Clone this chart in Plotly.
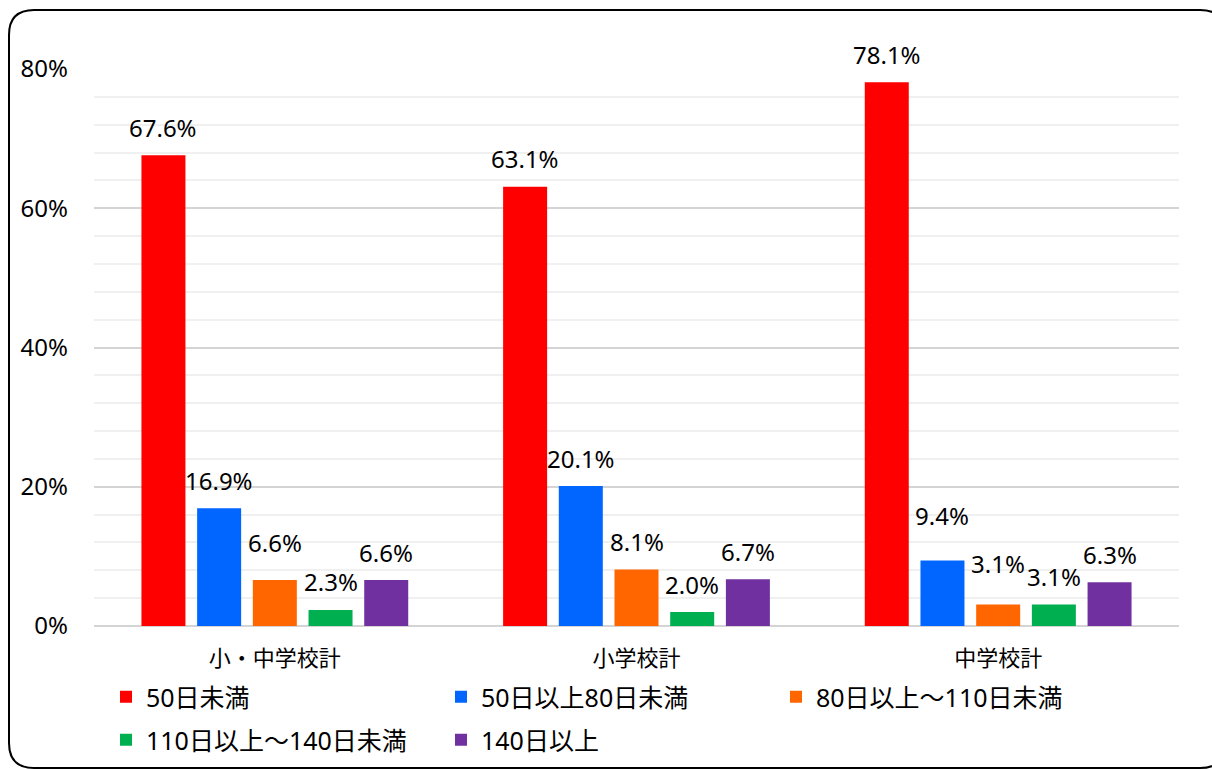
import plotly.graph_objects as go

categories = ["小・中学校計", "小学校計", "中学校計"]
series_names = ["50日未満", "50日以上80日未満", "80日以上～110日未満", "110日以上～140日未満", "140日以上"]
values_lt50 = [67.6, 63.1, 78.1]
values_50_80 = [16.9, 20.1, 9.4]
values_80_110 = [6.6, 8.1, 3.1]
values_110_140 = [2.3, 2.0, 3.1]
values_ge140 = [6.6, 6.7, 6.3]
series_values = [values_lt50, values_50_80, values_80_110, values_110_140, values_ge140]
colors = ["#FF0000", "#0066FF", "#FF6600", "#00B050", "#7030A0"]
# extra lift (px) for a few labels that sit higher in the original
extra_lift = {(2, 0): 10, (1, 2): 17, (2, 2): 13}

W, H = 1212, 769
ML, MR, MT, MB = 94, 33, 69, 143
BARGAP = 0.23
GROUPGAP = 0.21
FONT = "Noto Sans, Noto Sans CJK JP, sans-serif"

fig = go.Figure()
for j, (name, vals) in enumerate(zip(series_names, series_values)):
    fig.add_trace(go.Bar(
        x=list(range(len(categories))), y=vals, name=name,
        marker=dict(color=colors[j], line=dict(width=0)),
        legend="legend" if j < 3 else "legend2",
    ))

n = len(series_names)
slot = (1 - BARGAP) / n
annotations = []
for j, vals in enumerate(series_values):
    for i, v in enumerate(vals):
        annotations.append(dict(
            x=i + (j - (n - 1) / 2) * slot, y=v, xref="x", yref="y",
            text=f"{v:.1f}%", showarrow=False,
            yshift=28 + extra_lift.get((j, i), 0),
            font=dict(family=FONT, size=24, color="#000000"),
        ))

# rounded frame around the chart (pixel coords -> paper coords)
pw, ph = W - ML - MR, H - MT - MB
def px(x):
    return (x - ML) / pw
def py(y):
    return (H - MB - y) / ph
x0, y0, x1, y1, r = 9, 10, 1225, 768, 25
path = (f"M {px(x0 + r)},{py(y0)} L {px(x1 - r)},{py(y0)} "
        f"Q {px(x1)},{py(y0)} {px(x1)},{py(y0 + r)} L {px(x1)},{py(y1 - r)} "
        f"Q {px(x1)},{py(y1)} {px(x1 - r)},{py(y1)} L {px(x0 + r)},{py(y1)} "
        f"Q {px(x0)},{py(y1)} {px(x0)},{py(y1 - r)} L {px(x0)},{py(y0 + r)} "
        f"Q {px(x0)},{py(y0)} {px(x0 + r)},{py(y0)} Z")

legend_common = dict(orientation="h", xref="container", yref="container",
                     xanchor="left", yanchor="middle",
                     entrywidth=290, entrywidthmode="pixels",
                     font=dict(family=FONT, size=25), bgcolor="rgba(0,0,0,0)")

fig.update_layout(
    width=W, height=H,
    margin=dict(l=ML, r=MR, t=MT, b=MB, autoexpand=False),
    paper_bgcolor="white", plot_bgcolor="white",
    barmode="group", bargap=BARGAP, bargroupgap=GROUPGAP,
    font=dict(family=FONT, size=24, color="#000000"),
    annotations=annotations,
    shapes=[dict(type="path", path=path, xref="paper", yref="paper",
                 line=dict(color="#000000", width=2), layer="above")],
    xaxis=dict(
        tickmode="array", tickvals=list(range(len(categories))), ticktext=categories,
        range=[-0.5, len(categories) - 0.5],
        showgrid=False, zeroline=False, showline=False, ticks="",
        tickfont=dict(family=FONT, size=22), ticklabelstandoff=17,
    ),
    yaxis=dict(
        range=[0, 80], dtick=20, ticksuffix="%", tickfont=dict(family=FONT, size=24),
        showgrid=True, gridcolor="#D4D4D4", gridwidth=1.5,
        zeroline=True, zerolinecolor="#D4D4D4", zerolinewidth=1.5,
        showline=False, ticks="", ticklabelstandoff=25,
        minor=dict(dtick=4, showgrid=True, gridcolor="#F0F0F0", gridwidth=1.5),
    ),
    legend=dict(x=106 / W, y=1 - 697 / H, **legend_common),
    legend2=dict(x=106 / W, y=1 - 740 / H, **legend_common),
)

fig.write_html("out.html", config={"displayModeBar": False},
               post_script="document.body.style.margin='0';")
